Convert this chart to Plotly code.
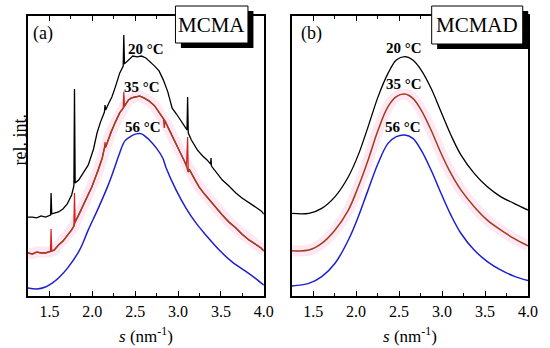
import plotly.graph_objects as go

# ---------------- data (panel a: MCMA) ----------------
s_a_black = [1.25, 1.301, 1.352, 1.403, 1.454, 1.505, 1.513, 1.519, 1.527, 1.556, 1.606, 1.657, 1.708, 1.759,
             1.785, 1.792, 1.80, 1.841, 1.892, 1.953, 2.014, 2.055, 2.095, 2.126, 2.141, 2.148, 2.156, 2.187,
             2.228, 2.268, 2.319, 2.36, 2.367, 2.375, 2.421, 2.472, 2.523, 2.574, 2.625, 2.676, 2.727, 2.778,
             2.829, 2.88, 2.931, 2.981, 3.032, 3.083, 3.104, 3.111, 3.119, 3.155, 3.226, 3.287, 3.338, 3.379,
             3.384, 3.389, 3.44, 3.516, 3.593, 3.674, 3.745, 3.827, 3.898, 3.969, 4.0]
v_a_black = [28.2, 28.2, 27.9, 28.6, 28.2, 28.6, 28.9, 36.8, 29.3, 29.6, 30.0, 31.1, 32.9, 36.1,
             39.3, 73.9, 40.4, 41.4, 43.9, 46.8, 52.5, 58.2, 62.1, 64.6, 65.7, 68.2, 66.4, 68.6,
             71.1, 74.6, 79.6, 82.1, 93.2, 82.9, 84.3, 85.7, 85.4, 85.7, 85.0, 83.6, 82.1, 80.4,
             77.1, 72.9, 67.1, 65.0, 62.5, 60.0, 59.3, 71.1, 58.2, 55.7, 52.1, 50.0, 48.6, 47.1,
             49.3, 46.4, 44.3, 41.4, 39.3, 36.8, 35.0, 33.2, 31.8, 30.4, 29.3]

s_a_red = [1.25, 1.301, 1.352, 1.403, 1.454, 1.505, 1.512, 1.519, 1.527, 1.556, 1.606, 1.657, 1.708, 1.759,
           1.785, 1.792, 1.80, 1.841, 1.897, 1.943, 1.994, 2.07, 2.116, 2.141, 2.148, 2.156, 2.217, 2.262,
           2.319, 2.36, 2.367, 2.375, 2.421, 2.455, 2.496, 2.553, 2.604, 2.665, 2.727, 2.783, 2.829, 2.839,
           2.849, 2.88, 2.938, 2.981, 3.032, 3.073, 3.098, 3.111, 3.119, 3.134, 3.185, 3.246, 3.308, 3.364,
           3.441, 3.516, 3.593, 3.674, 3.745, 3.827, 3.898, 3.969, 4.0]
v_a_red = [15.4, 15.0, 15.7, 15.4, 15.4, 15.7, 16.0, 23.9, 16.1, 16.4, 18.2, 19.6, 21.4, 23.6,
           25.0, 36.8, 26.4, 28.9, 32.5, 35.7, 38.9, 45.0, 49.3, 52.9, 55.0, 53.2, 58.6, 61.8,
           65.4, 67.1, 72.9, 67.9, 70.0, 70.7, 71.1, 71.4, 70.7, 69.6, 67.9, 65.4, 63.2, 60.0,
           62.5, 60.4, 56.8, 53.9, 51.1, 48.2, 46.4, 56.8, 44.3, 45.0, 42.1, 38.9, 36.4, 34.3,
           31.4, 28.9, 26.4, 24.3, 22.1, 20.0, 18.6, 17.1, 16.1]
spikes_a_red = [1.519, 1.792, 2.148, 2.367, 2.839, 3.111]

s_a_blue = [1.25, 1.352, 1.454, 1.532, 1.606, 1.722, 1.851, 1.953, 2.07, 2.185, 2.258, 2.319, 2.38, 2.452,
            2.513, 2.574, 2.625, 2.665, 2.745, 2.821, 2.861, 2.976, 3.092, 3.208, 3.323, 3.48, 3.633,
            3.786, 3.898, 4.0]
v_a_blue = [2.9, 2.5, 3.2, 4.6, 6.4, 10.4, 16.4, 23.6, 31.4, 39.6, 45.7, 51.1, 55.4, 57.1,
            57.9, 57.9, 56.8, 55.7, 52.9, 49.3, 45.7, 37.9, 31.4, 26.1, 21.8, 16.4, 12.1,
            8.9, 6.4, 3.9]

# ---------------- data (panel b: MCMAD) ----------------
s_b = [1.25, 1.45, 1.60, 1.755, 1.91, 2.025, 2.14, 2.256, 2.371, 2.468, 2.564, 2.66, 2.757, 2.872,
       2.988, 3.103, 3.219, 3.374, 3.527, 3.681, 3.836, 4.0]
v_b_black = [29.5, 29.5, 31.3, 35.5, 42.6, 50.4, 60.5, 71.2, 79.5, 84.3, 85.5, 84.3, 80.7, 74.2,
             65.8, 57.5, 50.4, 43.8, 39.0, 35.5, 33.1, 30.7]
v_b_red = [16.2, 16.4, 18.8, 23.6, 30.7, 39.0, 48.6, 59.3, 67.6, 71.2, 72.1, 70.6, 66.4, 59.3,
           51.0, 43.8, 37.9, 31.9, 27.1, 23.6, 20.6, 17.9]
v_b_blue = [3.6, 4.5, 6.9, 11.7, 20.0, 28.3, 37.9, 47.4, 54.5, 56.9, 57.5, 56.3, 52.1, 45.0,
            36.7, 28.9, 22.4, 16.4, 12.3, 9.3, 7.1, 5.5]

temps = ["20 °C", "35 °C", "56 °C"]
label_a = {"s": [2.62, 2.575, 2.59], "v": [88.2, 74.6, 60.4]}
label_b = {"s": [2.562, 2.554, 2.55], "v": [88.6, 75.7, 60.4]}
x_ticks = [1.5, 2.0, 2.5, 3.0, 3.5, 4.0]
x_tick_text = ["1.5", "2.0", "2.5", "3.0", "3.5", "4.0"]

BLACK = "#000000"
BROWN = "#9e3e1c"
RED = "#d42020"
BLUE = "#1f1fd2"
PINK = "rgba(255,175,215,0.30)"
FONT = "Liberation Serif"

fig = go.Figure()

def add(x, y, color, width, xa, ya, shape="linear"):
    fig.add_trace(go.Scatter(x=x, y=y, mode="lines", line=dict(color=color, width=width, shape=shape),
                             xaxis=xa, yaxis=ya, showlegend=False, hoverinfo="skip"))

# panel a
red_base = [(s, v) for s, v in zip(s_a_red, v_a_red) if s not in spikes_a_red]
add([p[0] for p in red_base], [p[1] for p in red_base], PINK, 11, "x", "y")
add(s_a_black, v_a_black, BLACK, 1.3, "x", "y")
add(s_a_red, v_a_red, RED, 1.2, "x", "y")
add([p[0] for p in red_base], [p[1] for p in red_base], BROWN, 1.5, "x", "y")
add(s_a_blue, v_a_blue, BLUE, 1.5, "x", "y", "spline")

# panel b
add(s_b, v_b_red, PINK, 11, "x2", "y2", "spline")
add(s_b, v_b_black, BLACK, 1.3, "x2", "y2", "spline")
add(s_b, v_b_red, BROWN, 1.5, "x2", "y2", "spline")
add(s_b, v_b_blue, BLUE, 1.5, "x2", "y2", "spline")

W, H = 550, 348
L, R, T, B = 27.5, 19, 16, 52
pw = W - L - R
ph = H - T - B

def px(x):
    return (x - L) / pw

def py(y):
    return (H - B - y) / ph

xa_common = dict(range=[1.25, 4.0], tickvals=x_ticks, ticktext=x_tick_text, ticks="inside", ticklen=5,
                 tickwidth=1.2, tickcolor=BLACK, showline=True, linecolor=BLACK, linewidth=1.5,
                 mirror="ticks", showgrid=False, zeroline=False,
                 tickfont=dict(family=FONT, size=16, color=BLACK),
                 minor=dict(dtick=0.25, tick0=1.25, ticks="inside", ticklen=3, tickwidth=1.1,
                            tickcolor=BLACK, showgrid=False))
ya_common = dict(range=[0, 100], showticklabels=False, ticks="", showline=True, linecolor=BLACK,
                 linewidth=1.5, mirror=True, showgrid=False, zeroline=False)

fig.update_layout(
    width=W, height=H, margin=dict(l=L, r=R, t=T, b=B),
    paper_bgcolor="white", plot_bgcolor="white",
    xaxis=dict(domain=[0, px(265)], anchor="y", **xa_common),
    xaxis2=dict(domain=[px(293), 1], anchor="y2", **xa_common),
    yaxis=dict(domain=[0, 1], anchor="x", **ya_common),
    yaxis2=dict(domain=[0, 1], anchor="x2", **ya_common),
)

anns = []
for i, t in enumerate(temps):
    anns.append(dict(x=label_a["s"][i], y=label_a["v"][i], xref="x", yref="y", text="<b>%s</b>" % t,
                     showarrow=False, xanchor="center", yanchor="middle",
                     font=dict(family=FONT, size=15, color=BLACK)))
    anns.append(dict(x=label_b["s"][i], y=label_b["v"][i], xref="x2", yref="y2", text="<b>%s</b>" % t,
                     showarrow=False, xanchor="center", yanchor="middle",
                     font=dict(family=FONT, size=15, color=BLACK)))

def pann(x, y, text, size, angle=0):
    return dict(x=px(x), y=py(y), xref="paper", yref="paper", text=text, showarrow=False,
                xanchor="center", yanchor="middle", textangle=angle,
                font=dict(family=FONT, size=size, color=BLACK))

anns += [
    pann(43, 33, "(a)", 18),
    pann(313, 33, "(b)", 18),
    pann(212.5, 25, "MCMA", 21),
    pann(480, 25, "MCMAD", 21),
    pann(19, 140, "rel. int.", 18, -90),
    pann(146, 335, "<i>s</i> (nm<sup>-1</sup>)", 17),
    pann(412, 335, "<i>s</i> (nm<sup>-1</sup>)", 17),
]
fig.update_layout(annotations=anns)

shapes = []
for (x0, x1, y0, y1) in [(176, 249, 6, 43), (434, 525.7, 6, 44)]:
    shapes.append(dict(type="rect", xref="paper", yref="paper", x0=px(x0 + 5.5), x1=px(x1 + 5.5),
                       y0=py(y1 + 5), y1=py(y0 + 5), fillcolor=BLACK, line=dict(width=0), layer="above"))
    shapes.append(dict(type="rect", xref="paper", yref="paper", x0=px(x0), x1=px(x1),
                       y0=py(y1), y1=py(y0), fillcolor="white", line=dict(color=BLACK, width=1),
                       layer="above"))
fig.update_layout(shapes=shapes)

fig.write_html("out.html", config={"displayModeBar": False},
               post_script="document.body.style.margin='0';")
